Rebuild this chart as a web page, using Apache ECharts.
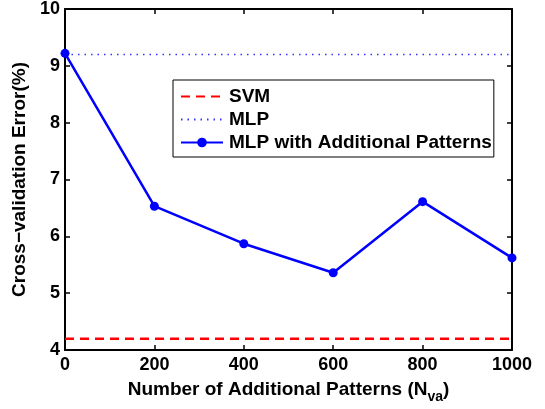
<!DOCTYPE html>
<html>
<head>
<meta charset="utf-8">
<script src="https://cdn.jsdelivr.net/npm/echarts@6/dist/echarts.min.js"></script>
<style>
  html, body { margin: 0; padding: 0; background: #fff; }
  #chart { width: 545px; height: 409px; }
</style>
</head>
<body>
<div id="chart"></div>
<script>
// data
var patterns = [0, 200, 400, 600, 800, 1000];
var mlpAdditional = [9.22, 6.53, 5.87, 5.36, 6.61, 5.62];
var svmError = 4.2;
var mlpError = 9.2;
var xTicks = [0, 200, 400, 600, 800, 1000];
var yTicks = [4, 5, 6, 7, 8, 9, 10];

var font = 'Liberation Sans, Arial, Helvetica, sans-serif';

var chart = echarts.init(document.getElementById('chart'));

function pairs(xs, ys) {
  return xs.map(function (x, i) { return [x, ys[i]]; });
}

function line() {
  return { show: true, onZero: false, lineStyle: { color: '#000', width: 2 } };
}
function tick() {
  return { show: true, inside: true, length: 5, lineStyle: { color: '#000', width: 1.5 } };
}

var option = {
  animation: false,
  backgroundColor: '#fff',
  grid: { left: 65, right: 33, top: 8, bottom: 57 },
  legend: {
    orient: 'vertical',
    left: 173,
    top: 80,
    itemWidth: 42,
    itemHeight: 12,
    itemGap: 4,
    padding: [7, 2, 5, 7],
    backgroundColor: '#fff',
    borderColor: '#000',
    borderWidth: 1,
    textStyle: { fontFamily: font, fontWeight: 'bold', fontSize: 19, color: '#000', padding: [0, 0, 0, 1] },
    data: [
      { name: 'SVM', itemStyle: { opacity: 0 } },
      { name: 'MLP', itemStyle: { opacity: 0 } },
      { name: 'MLP with Additional Patterns' }
    ]
  },
  xAxis: [
    {
      type: 'value', min: 0, max: 1000, interval: 200,
      position: 'bottom',
      axisLine: line(), axisTick: tick(), splitLine: { show: false },
      name: '{n|Number of Additional Patterns (N}{s|va}{n|)}',
      nameLocation: 'middle',
      nameGap: 26,
      nameTextStyle: {
        rich: {
          n: { fontFamily: font, fontWeight: 'bold', fontSize: 19, color: '#000' },
          s: { fontFamily: font, fontWeight: 'bold', fontSize: 14, color: '#000', padding: [14, 0, 0, 0] }
        }
      },
      axisLabel: {
        margin: 6,
        fontFamily: font, fontWeight: 'bold', fontSize: 18, color: '#000',
        formatter: function (v) { return xTicks.indexOf(v) >= 0 ? String(v) : ''; }
      }
    },
    {
      type: 'value', min: 0, max: 1000, interval: 200,
      position: 'top',
      axisLine: line(), axisTick: tick(), splitLine: { show: false },
      axisLabel: { show: false }
    }
  ],
  yAxis: [
    {
      type: 'value', min: 4, max: 10, interval: 1,
      position: 'left',
      axisLine: line(), axisTick: tick(), splitLine: { show: false },
      name: 'Cross\u2212validation Error(%)',
      nameLocation: 'middle',
      nameGap: 28,
      nameTextStyle: { fontFamily: font, fontWeight: 'bold', fontSize: 19, color: '#000' },
      axisLabel: {
        margin: 5,
        fontFamily: font, fontWeight: 'bold', fontSize: 18, color: '#000',
        formatter: function (v) { return yTicks.indexOf(v) >= 0 ? String(v) : ''; }
      }
    },
    {
      type: 'value', min: 4, max: 10, interval: 1,
      position: 'right',
      axisLine: line(), axisTick: tick(), splitLine: { show: false },
      axisLabel: { show: false }
    }
  ],
  series: [
    {
      name: 'SVM',
      type: 'line',
      data: [[xTicks[0], svmError], [xTicks[xTicks.length - 1], svmError]],
      symbol: 'none',
      color: '#ff0000',
      lineStyle: { color: '#ff0000', width: 2.5, type: [9, 6] },
      z: 3
    },
    {
      name: 'MLP',
      type: 'line',
      data: [[xTicks[0], mlpError], [xTicks[xTicks.length - 1], mlpError]],
      symbol: 'none',
      color: '#0000ff',
      lineStyle: { color: '#3333ff', width: 1.5, type: [1.5, 5] },
      z: 3
    },
    {
      name: 'MLP with Additional Patterns',
      type: 'line',
      data: pairs(patterns, mlpAdditional),
      symbol: 'circle',
      symbolSize: 9,
      color: '#0000ff',
      itemStyle: { color: '#0000ff' },
      lineStyle: { color: '#0000ff', width: 2.5 },
      z: 4
    }
  ]
};

chart.setOption(option);
</script>
</body>
</html>
